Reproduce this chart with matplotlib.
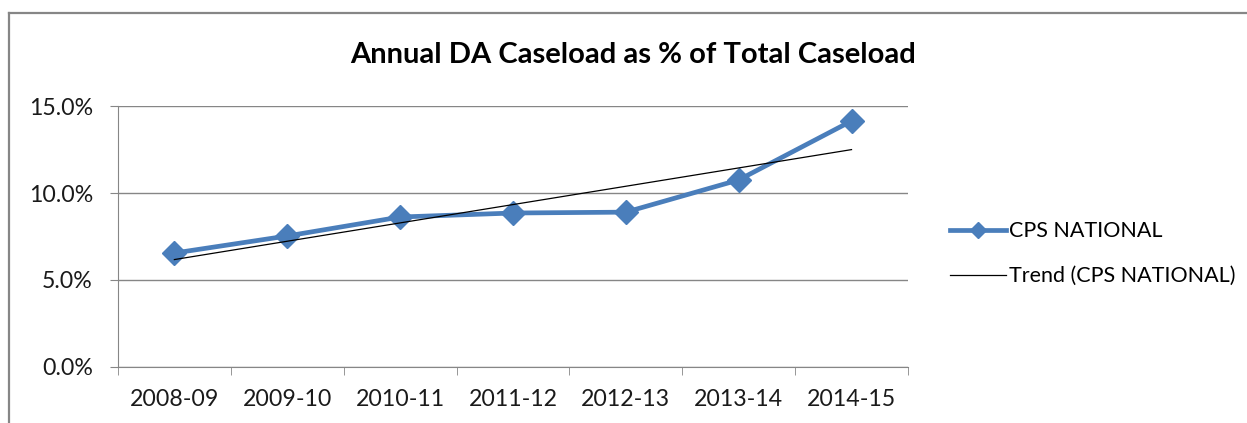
import numpy as np
import matplotlib.pyplot as plt
from matplotlib.ticker import FuncFormatter
from matplotlib.lines import Line2D

plt.rcParams['font.family'] = ['Lato', 'DejaVu Sans']

# data
years = ["2008-09", "2009-10", "2010-11", "2011-12", "2012-13", "2013-14", "2014-15"]
da_pct = [6.55, 7.53, 8.62, 8.85, 8.9, 10.75, 14.14]

x = np.arange(len(years))
coef = np.polyfit(x, da_pct, 1)
trend = np.polyval(coef, x)

fig = plt.figure(figsize=(12.47, 4.23), dpi=100)
ax = fig.add_axes([0.0946, 0.1324, 0.6335, 0.617])

blue = "#4A7EBB"
ax.plot(x, da_pct, color=blue, lw=3.4, marker="D", markersize=12.5, label="CPS NATIONAL", zorder=3)
ax.plot(x, trend, color="black", lw=0.9, label="Trend (CPS NATIONAL)", zorder=4)

ax.set_xlim(-0.5, len(years) - 0.5)
ax.set_ylim(0, 15)
ax.set_yticks([0, 5, 10, 15])
ax.yaxis.set_major_formatter(FuncFormatter(lambda v, p: f"{v:.1f}%"))
ax.set_xticks(x)
ax.set_xticklabels(years)
ax.set_xticks(np.arange(-0.5, len(years)), minor=True)
ax.tick_params(axis="x", which="major", length=0, pad=16, labelsize=16.7, labelcolor="#1a1a1a")
ax.tick_params(axis="x", which="minor", length=6, color="#868686", direction="out")
ax.tick_params(axis="y", length=6, color="#868686", labelsize=16.7, pad=12, labelcolor="#1a1a1a")

ax.grid(axis="y", color="#868686", lw=1)
for s in ["top", "right"]:
    ax.spines[s].set_visible(False)
for s in ["left", "bottom"]:
    ax.spines[s].set_color("#868686")

fig.text(0.5075, 0.87, "Annual DA Caseload as % of Total Caseload", ha="center", va="center",
         fontsize=21, fontweight="bold")

handles = [Line2D([], [], color=blue, lw=3.4, marker="D", markersize=8),
           Line2D([], [], color="black", lw=0.9)]
fig.legend(handles, ["CPS NATIONAL", "Trend (CPS NATIONAL)"], loc="center left",
           bbox_to_anchor=(0.746, 0.40), frameon=False, fontsize=15.5,
           handlelength=2.6, handletextpad=0.15, labelspacing=1.15)

# outer chart border
fig.add_artist(Line2D([9 / 1247, 9 / 1247], [0, 1 - 13 / 423], color="#868686", lw=1.6))
fig.add_artist(Line2D([9 / 1247, 1], [1 - 13 / 423, 1 - 13 / 423], color="#868686", lw=1.6))

fig.savefig("out.png", dpi=100)
